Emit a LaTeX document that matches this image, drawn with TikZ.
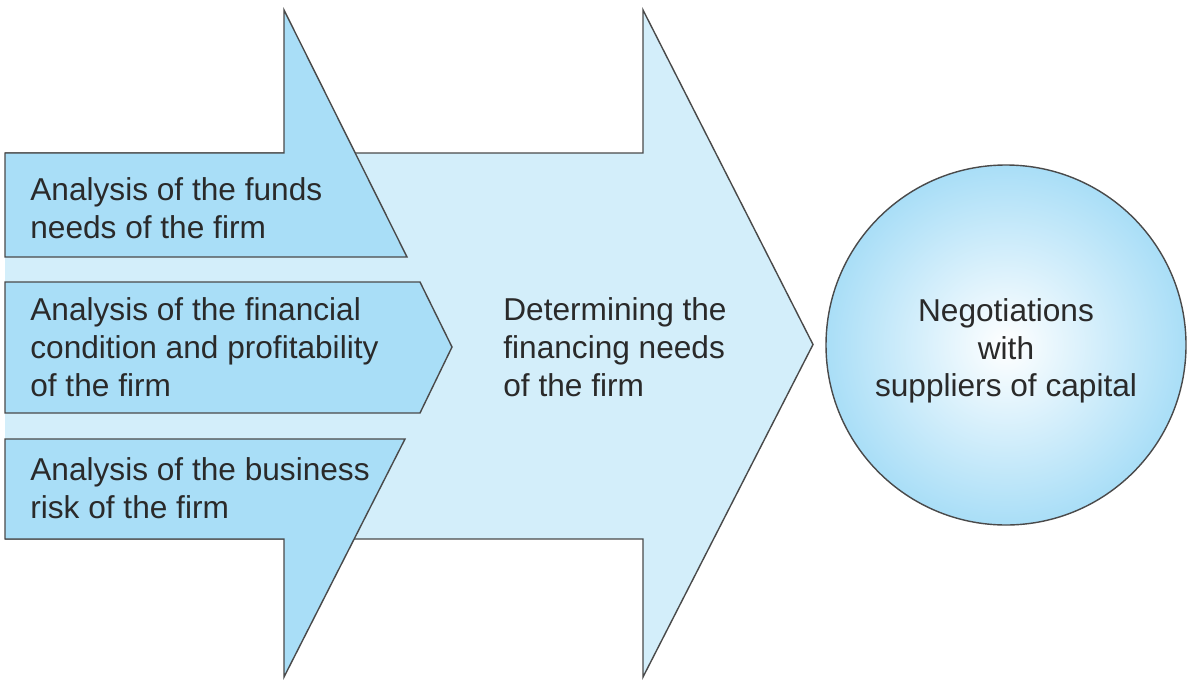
\documentclass[tikz,border=0pt]{standalone}
\usepackage{fontspec}
\setmainfont{Liberation Sans}
\usetikzlibrary{calc}
\definecolor{midblue}{HTML}{A9DEF7}
\definecolor{paleblue}{HTML}{D3EEFA}
\definecolor{edgegray}{HTML}{4A4A4A}
\definecolor{txtgray}{HTML}{2A2A2A}
\tikzset{
  panel/.style={draw=edgegray, line width=0.8pt, line join=miter},
  lbl/.style={text=txtgray, font=\fontsize{18}{21.5}\selectfont, inner sep=0pt, align=left},
}

\begin{document}
\begin{tikzpicture}

\useasboundingbox (0,0) rectangle (23.76,13.64);

% pale arrow in the back
\fill[paleblue] (0.1,10.58)--(12.86,10.58)--(12.86,13.44)--(16.26,6.75)--(12.86,0.1)--(12.86,2.86)--(0.1,2.86)--cycle;
\draw[panel] (0.1,10.58)--(12.86,10.58)--(12.86,13.44)--(16.26,6.75)--(12.86,0.1)--(12.86,2.86)--(0.1,2.86);

% three arrows on the left
\draw[panel, fill=midblue] (0.1,10.58)--(5.68,10.58)--(5.68,13.44)--(8.14,8.5)--(0.1,8.5)--cycle;
\draw[panel, fill=midblue] (0.1,8.0)--(8.4,8.0)--(9.04,6.7)--(8.4,5.38)--(0.1,5.38)--cycle;
\draw[panel, fill=midblue] (0.1,4.86)--(8.1,4.86)--(5.68,0.1)--(5.68,2.86)--(0.1,2.86)--cycle;

\node[lbl, anchor=west] (funds) at (0.6,9.48) {Analysis of the funds\\needs of the firm};
\node[lbl, anchor=west] (cond) at (0.6,6.7) {Analysis of the financial\\condition and profitability\\of the firm};
\node[lbl, anchor=west] (risk) at (0.6,3.88) {Analysis of the business\\risk of the firm};

\node[lbl, anchor=west] (needs) at (10.06,6.7) {Determining the\\financing needs\\of the firm};

% circle on the right
\node[circle, draw=edgegray, line width=0.8pt, minimum size=7.2cm, inner color=white, outer color=midblue] (nego) at (20.12,6.74) {};
\node[lbl, align=center, yshift=-0.12cm] (negotxt) at (nego.center) {Negotiations\\with\\suppliers of capital};

\end{tikzpicture}
\end{document}
